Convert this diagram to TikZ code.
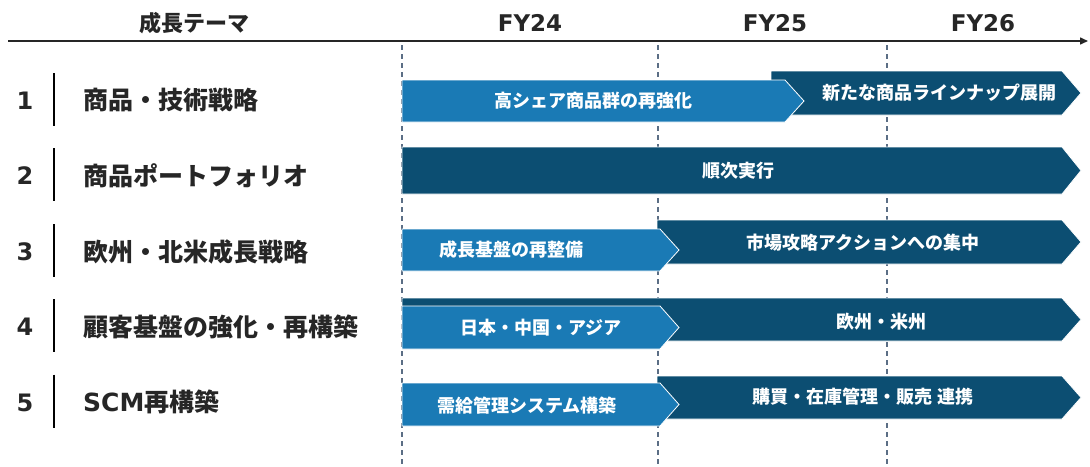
\documentclass[tikz,border=0pt]{standalone}
\usepackage{fontspec}
\setmainfont{Noto Sans CJK JP}
\newfontfamily\latinb{DejaVu Sans}
\usetikzlibrary{arrows.meta}
\definecolor{lightbar}{HTML}{1A7AB5}
\definecolor{darkbar}{HTML}{0C4E72}
\definecolor{gridc}{HTML}{5B6E85}
\definecolor{txt}{HTML}{262626}
\newcommand\chevbar[6]{%
  \fill[#5,draw=white,line width=0.8pt] (#1,#3) -- (#2,#3) -- ({#2+#6},{(#3+#4)/2}) -- (#2,#4) -- (#1,#4) -- cycle;}
\tikzset{
  head/.style={text=txt,font=\fontsize{22}{24}\selectfont\bfseries,inner sep=0pt},
  fyhead/.style={text=txt,font=\fontsize{23}{25}\selectfont\latinb\bfseries,inner sep=0pt},
  num/.style={text=txt,font=\fontsize{24}{26}\selectfont\latinb\bfseries,inner sep=0pt},
  theme/.style={text=txt,font=\fontsize{25}{27}\selectfont\bfseries,inner sep=0pt,anchor=west},
  bartext/.style={text=white,font=\fontsize{18}{20}\selectfont\bfseries,inner sep=0pt},
  grid/.style={gridc,line width=1.2pt,dash pattern=on 5pt off 4pt},
  sep/.style={black,line width=2.5pt}
}
\begin{document}
\begin{tikzpicture}[x=1pt,y=-1pt]
\useasboundingbox (0,0) rectangle (1090,466);
% header
\node[head] (h0) at (194,23) {成長テーマ};
\node[fyhead] (h1) at (530,23) {FY24};
\node[fyhead] (h2) at (775,23) {FY25};
\node[fyhead] (h3) at (983,23) {FY26};
\coordinate (axs) at (8,41);
\coordinate (axe) at (1088,41);
\draw[txt,line width=1.5pt,-{Triangle[length=8pt,width=7pt]}] (axs) -- (axe);
% grid lines
\foreach \x in {402,658,887} \draw[grid] (\x,45) -- (\x,466);
% left column
\foreach \n/\y/\t in {1/99.5/商品・技術戦略,2/174.5/商品ポートフォリオ,3/250.5/欧州・北米成長戦略,4/325.5/顧客基盤の強化・再構築,5/401/{{\latinb SCM}再構築}} {
  \node[num] (n\n) at (25,\y+1.5) {\n};
  \draw[sep] (54,\y-26.5) -- (54,\y+26.5);
  \node[theme] (t\n) at (83,\y+1) {\t};
}
% row 1
\chevbar{771}{1062}{71}{115}{darkbar}{19}
\chevbar{402}{785}{80}{122}{lightbar}{19}
\node[bartext] (b1a) at (593,101) {高シェア商品群の再強化};
\node[bartext] (b1b) at (939,93) {新たな商品ラインナップ展開};
% row 2
\chevbar{402}{1062}{147}{194}{darkbar}{19}
\node[bartext] (b2) at (738,171) {順次実行};
% row 3
\chevbar{657}{1062}{220}{264}{darkbar}{19}
\chevbar{402}{660}{229}{271}{lightbar}{19}
\node[bartext] (b3a) at (511,250) {成長基盤の再整備};
\node[bartext] (b3b) at (863,243) {市場攻略アクションへの集中};
% row 4
\chevbar{402}{1062}{298}{341}{darkbar}{19}
\chevbar{402}{660}{306}{349}{lightbar}{19}
\node[bartext] (b4a) at (541,328) {日本・中国・アジア};
\node[bartext] (b4b) at (881,322) {欧州・米州};
% row 5
\chevbar{657}{1062}{376}{419}{darkbar}{19}
\chevbar{402}{660}{383}{426}{lightbar}{19}
\node[bartext] (b5a) at (527,406) {需給管理システム構築};
\node[bartext] (b5b) at (863,397) {購買・在庫管理・販売 連携};
\end{tikzpicture}
\end{document}
